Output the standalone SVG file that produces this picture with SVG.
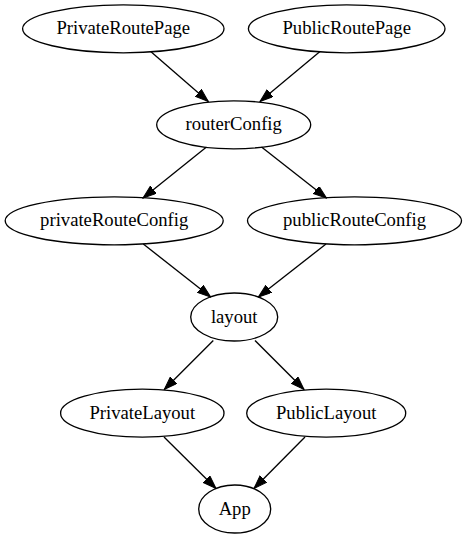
<svg xmlns="http://www.w3.org/2000/svg" width="466" height="539" viewBox="0 0 466 539">
<style>
.n ellipse{fill:none;stroke:#000;stroke-width:1.33}
.n text{font-family:"Liberation Serif","Times New Roman",serif;font-size:18.67px;text-anchor:middle;fill:#000}
#edges line{stroke:#000;stroke-width:1.33;marker-end:url(#ah)}
</style>
<defs>
<marker id="ah" markerUnits="userSpaceOnUse" markerWidth="14" markerHeight="10" refX="13.3" refY="4.67" orient="auto" viewBox="0 0 14 10">
<path d="M0,0 L13.3,4.67 L0,9.33 z" fill="#000" stroke="#000" stroke-width="1"/>
</marker>
</defs>
<rect width="466" height="539" fill="#fff"/>
<g id="edges">
<line x1="150.7" y1="51.5" x2="208.3" y2="101.5"/>
<line x1="320" y1="51.5" x2="260" y2="101.5"/>
<line x1="206.5" y1="147" x2="143" y2="198"/>
<line x1="261.5" y1="147" x2="326.5" y2="198"/>
<line x1="143.3" y1="244" x2="210.7" y2="297"/>
<line x1="326" y1="244" x2="258.3" y2="297"/>
<line x1="213.3" y1="340.5" x2="164.3" y2="389.5"/>
<line x1="255" y1="340.5" x2="304" y2="389.5"/>
<line x1="164" y1="437" x2="216" y2="488.5"/>
<line x1="305" y1="437" x2="254" y2="488.5"/>
</g>
<g id="PrivateRoutePage" class="n"><ellipse cx="123.3" cy="28.8" rx="100.7" ry="24"/><text x="123.3" y="34.4">PrivateRoutePage</text></g>
<g id="PublicRoutePage" class="n"><ellipse cx="346.7" cy="28.8" rx="98.3" ry="24"/><text x="346.7" y="34.4">PublicRoutePage</text></g>
<g id="routerConfig" class="n"><ellipse cx="233.7" cy="124.8" rx="77" ry="24"/><text x="233.7" y="130.4">routerConfig</text></g>
<g id="privateRouteConfig" class="n"><ellipse cx="114.2" cy="220.8" rx="109" ry="24"/><text x="114.2" y="226.4">privateRouteConfig</text></g>
<g id="publicRouteConfig" class="n"><ellipse cx="354.5" cy="220.8" rx="107" ry="24"/><text x="354.5" y="226.4">publicRouteConfig</text></g>
<g id="layout" class="n"><ellipse cx="234.2" cy="317" rx="43.5" ry="24"/><text x="234.2" y="322.6">layout</text></g>
<g id="PrivateLayout" class="n"><ellipse cx="142.3" cy="413.2" rx="81.7" ry="24"/><text x="142.3" y="418.8">PrivateLayout</text></g>
<g id="PublicLayout" class="n"><ellipse cx="326.2" cy="413.2" rx="79.5" ry="24"/><text x="326.2" y="418.8">PublicLayout</text></g>
<g id="App" class="n"><ellipse cx="234.7" cy="509" rx="36" ry="24"/><text x="234.7" y="514.6">App</text></g>
</svg>
